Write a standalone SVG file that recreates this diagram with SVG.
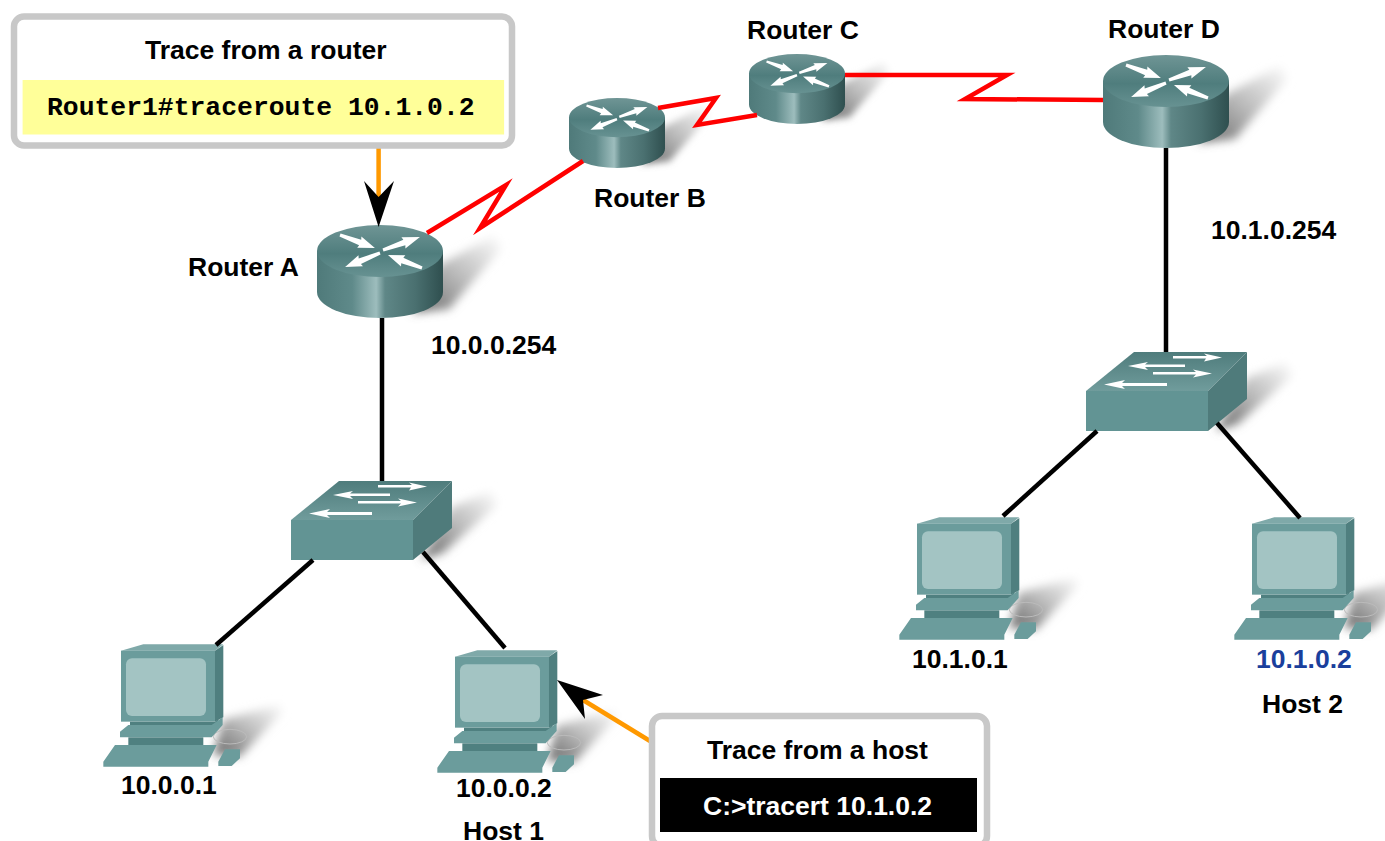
<svg xmlns="http://www.w3.org/2000/svg" width="1385" height="841" viewBox="0 0 1385 841">
<style>
text{font-family:"Liberation Sans",Arial,sans-serif;font-weight:700;font-size:26.500px;fill:#000}
.mono{font-family:"Liberation Mono","Courier New",monospace;font-weight:700;font-size:26.400px}
.red{fill:none;stroke:#f00;stroke-width:4.500;stroke-miterlimit:12}
.blk{stroke:#000;stroke-width:4.500;fill:none}
.org{stroke:#f90;stroke-width:4.500;fill:none}
.box{fill:#fff;stroke:#c8c8c8;stroke-width:6.500}
.wa{fill:#fff}
</style>
<defs>
<linearGradient id="rs" x1="0" x2="1" y1="0" y2="0">
<stop offset="0" stop-color="#4f7a7a"/><stop offset=".28" stop-color="#5f8a8a"/><stop offset=".47" stop-color="#9dbdbd"/><stop offset=".54" stop-color="#5f8787"/><stop offset=".78" stop-color="#4a7070"/><stop offset="1" stop-color="#2f4f4f"/>
</linearGradient>
<linearGradient id="rt" x1="0" x2="0" y1="0" y2="1">
<stop offset="0" stop-color="#6f9595"/><stop offset=".55" stop-color="#4f7d7d"/><stop offset="1" stop-color="#679292"/>
</linearGradient>
<linearGradient id="st" x1="0" x2="0" y1="0" y2="1">
<stop offset="0" stop-color="#4f7c7c"/><stop offset="1" stop-color="#709c9c"/>
</linearGradient>
<linearGradient id="sh" x1="0" x2="1" y1="1" y2="0">
<stop offset="0" stop-color="#666"/><stop offset=".5" stop-color="#bbb"/><stop offset="1" stop-color="#fff"/>
</linearGradient>
<filter id="bl" x="-30%" y="-30%" width="160%" height="160%"><feGaussianBlur stdDeviation="5"/></filter>
<filter id="bl3" x="-30%" y="-30%" width="160%" height="160%"><feGaussianBlur stdDeviation="14"/></filter>
<polygon id="ar" points="0,-1.500 22,-3 21,-6 38,0 21,6 22,3 0,1.500"/>
<g id="router">
<polygon points="95,88 122,40 178,10 184,24 132,84" fill="url(#sh)" filter="url(#bl)"/>
<path d="M0 26V67A63 26 0 0 0 126 67V26z" fill="url(#rs)"/>
<ellipse cx="63" cy="26" rx="63" ry="26" fill="url(#rt)"/>
<use href="#ar" class="wa" transform="translate(23 10) rotate(20.400) scale(.98 1)"/>
<use href="#ar" class="wa" transform="translate(66 25) rotate(-19.400) scale(1.030 1)"/>
<use href="#ar" class="wa" transform="translate(63 28) rotate(158) scale(.99 1)"/>
<use href="#ar" class="wa" transform="translate(105 43) rotate(201) scale(.96 1)"/>
</g>
<g id="switch">
<polygon points="161,26 200,10 206,24 152,72 130,79" fill="url(#sh)" filter="url(#bl)"/>
<polygon points="0,39 48,0 161,0 122,39" fill="url(#st)"/>
<rect x="0" y="39" width="122" height="40" fill="#629494"/>
<polygon points="122,39 161,0 161,47 122,79" fill="#4f7b7b"/>
<path d="M87 4h34l-3-2.500 18 4-18 4 2-3H87zM99 12.500H59l3-2.500-20 4 20 4-3-3h40zM67 20h43l-3-2.500 19 4-19 4 3-3H67zM81 31H36l3-3-21 4.500 21 4.500-3-3h45z" fill="#fff"/>
</g>
<g id="pc" transform="scale(.3333)">
<polygon points="398,270 570,222 578,245 450,380 370,375" fill="url(#sh)" filter="url(#bl3)"/>
<ellipse cx="420" cy="320" rx="50" ry="22" fill="none" stroke="#bbb" stroke-width="3"/>
<polygon points="93,62 160,43 400,43 375,62" fill="#7fa9a9"/>
<rect x="93" y="62" width="282" height="213" fill="#6b9c9c"/>
<polygon points="375,62 400,45 400,262 375,275" fill="#4f7f7f"/>
<rect x="108" y="85" width="240" height="173" rx="18" fill="#a3c4c3"/>
<polygon points="120,275 375,275 385,268 385,278 360,290 120,290" fill="#4f8080"/>
<polygon points="90,322 90,305 115,285 365,285 398,262 398,285 365,322" fill="#6b9c9c"/>
<rect x="115" y="322" width="225" height="24" fill="#4f8080"/>
<polygon points="40,395 75,345 380,345 355,395 355,410 40,410" fill="#6b9c9c"/>
<polygon points="385,395 405,358 450,358 450,385 425,408 385,408" fill="#6b9c9c"/>
</g>
</defs>
<g id="router-a"><use href="#router" transform="translate(317 225)"/><text x="188" y="276">Router A</text><text x="431" y="354">10.0.0.254</text></g>
<g id="router-b"><use href="#router" transform="translate(569 98) scale(.762 .753)"/><text x="594" y="207">Router B</text></g>
<g id="router-c"><use href="#router" transform="translate(749 54) scale(.762 .753)"/><text x="747" y="39">Router C</text></g>
<g id="router-d"><use href="#router" transform="translate(1103 55)"/><text x="1108" y="38">Router D</text><text x="1211" y="239">10.1.0.254</text></g>
<g id="switch-a"><use href="#switch" transform="translate(291 481)"/></g>
<g id="switch-d"><use href="#switch" transform="translate(1086 352)"/></g>
<g id="pc-1"><use href="#pc" transform="translate(90 630)"/><text x="121" y="794">10.0.0.1</text></g>
<g id="host-1"><use href="#pc" transform="translate(424 636)"/><text x="456" y="797">10.0.0.2</text><text x="463" y="840">Host 1</text></g>
<g id="pc-3"><use href="#pc" transform="translate(886 503)"/><text x="912" y="668">10.1.0.1</text></g>
<g id="host-2"><use href="#pc" transform="translate(1221 503)"/><text x="1256" y="668" style="fill:#1a3f9c">10.1.0.2</text><text x="1262" y="713">Host 2</text></g>
<g id="connectors">
<line class="blk" x1="382" y1="318" x2="382" y2="481"/>
<line class="blk" x1="313" y1="560" x2="216" y2="645"/>
<line class="blk" x1="423" y1="552" x2="505" y2="648"/>
<line class="blk" x1="1166" y1="148" x2="1166" y2="352"/>
<line class="blk" x1="1097" y1="431" x2="1003" y2="516"/>
<line class="blk" x1="1217" y1="423" x2="1300" y2="518"/>
<polyline class="red" points="427,233 506,185 480,228 583,161"/>
<polyline class="red" points="658,108 716,98 697,125 757,115"/>
<polyline class="red" points="845,75 1007,75 965,99 1103,100"/>
<line class="org" x1="378.600" y1="148" x2="378.600" y2="198"/>
<polygon points="378.600,227 364,181 378.600,197 394,181"/>
<line class="org" x1="650" y1="741" x2="583" y2="700"/>
<polygon points="557,680 603,695 583,700 585,719"/>
</g>
<g id="callout-router">
<rect class="box" x="14" y="16.500" width="498" height="129" rx="10"/>
<text x="145" y="59">Trace from a router</text>
<rect x="22.600" y="80" width="481.500" height="54.500" fill="#ffff99"/>
<text class="mono" x="47" y="115">Router1#traceroute 10.1.0.2</text>
</g>
<g id="callout-host">
<rect class="box" x="652" y="716" width="335" height="130" rx="10"/>
<text x="707" y="759">Trace from a host</text>
<rect x="660" y="778" width="317" height="54"/>
<text x="703" y="815" style="fill:#fff">C:&gt;tracert 10.1.0.2</text>
</g>
</svg>
